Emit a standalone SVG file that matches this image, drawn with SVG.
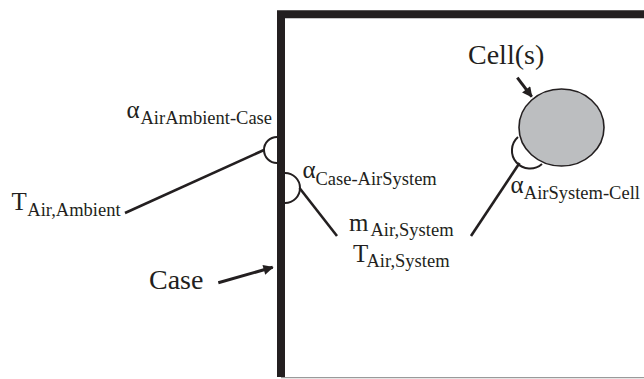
<svg xmlns="http://www.w3.org/2000/svg" width="644" height="379" viewBox="0 0 644 379">
<style>
text{font-family:'Liberation Serif','DejaVu Serif',serif;fill:#231f20}
.lbl{font-size:28px}
.v{font-size:25px}
.s{font-size:18.5px}
.wall{fill:none;stroke:#231f20;stroke-width:8}
.ln{fill:none;stroke:#231f20;stroke-width:2.6}
.arc{fill:none;stroke:#231f20;stroke-width:2}
.arr{fill:none;stroke:#231f20;stroke-width:3}
</style>
<defs>
<marker id="ah" viewBox="0 0 10 10" refX="9" refY="5" markerWidth="4" markerHeight="3.4" orient="auto" markerUnits="strokeWidth">
<path d="M0,0 L10,5 L0,10 z" fill="#231f20"/>
</marker>
</defs>
<rect width="644" height="379" fill="#ffffff"/>

<g id="case">
<path class="wall" d="M281,377 V14.3 H644"/>
<line x1="281" y1="377.6" x2="644" y2="377.6" stroke="#9a9a9a" stroke-width="1.2"/>
</g>

<g id="cell">
<ellipse cx="561.5" cy="127.5" rx="42.5" ry="38.5" fill="#bcbec0" stroke="#231f20" stroke-width="1.6"/>
</g>

<g id="connectors">
<path class="arc" d="M277,137 A13,13 0 0 0 277,163"/>
<line class="ln" x1="125" y1="213" x2="264" y2="150"/>
<path class="arc" d="M285,173 A15,15 0 0 1 285,203"/>
<line class="ln" x1="299.5" y1="188" x2="337" y2="236"/>
<path class="arc" d="M518,137 A18,18 0 0 0 542,164"/>
<line class="ln" x1="519.5" y1="163" x2="471" y2="236"/>
<line class="arr" x1="218.3" y1="282.7" x2="272.7" y2="267.3" marker-end="url(#ah)"/>
<line class="arr" x1="517.3" y1="77.7" x2="531.7" y2="96.7" marker-end="url(#ah)"/>
</g>

<g id="label-case"><text class="lbl" x="149" y="289">Case</text></g>
<g id="label-cells"><text class="lbl" x="468" y="64">Cell(s)</text></g>

<g id="alpha-ambient-case">
<text class="v" x="126.5" y="118">α</text>
<text class="s" x="140.5" y="124">AirAmbient-Case</text>
</g>
<g id="t-air-ambient">
<text class="v" x="11.5" y="210">T</text>
<text class="s" x="27.3" y="215.5">Air,Ambient</text>
</g>
<g id="alpha-case-airsystem">
<text class="v" x="302.5" y="178">α</text>
<text class="s" x="315.5" y="184.5">Case-AirSystem</text>
</g>
<g id="air-system">
<text class="v" x="349" y="231">m</text>
<text class="s" x="370.5" y="235.5">Air,System</text>
<text class="v" x="353" y="261.7">T</text>
<text class="s" x="366.5" y="267">Air,System</text>
</g>
<g id="alpha-airsystem-cell">
<text class="v" x="510.5" y="193">α</text>
<text class="s" x="523.8" y="199.3">AirSystem-Cell</text>
</g>
</svg>
